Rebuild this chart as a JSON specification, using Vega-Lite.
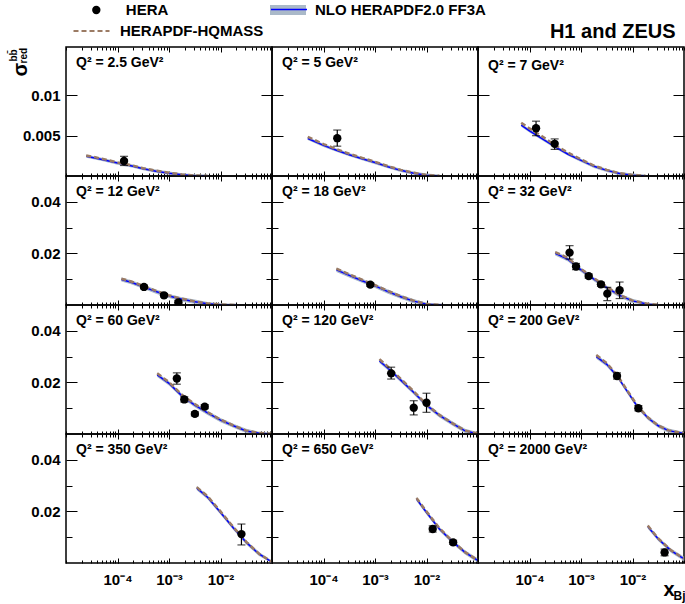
{
"$schema": "https://vega.github.io/schema/vega-lite/v6.json",
"autosize": {"type": "none"},
"padding": {"left": 66, "top": 47, "right": 619, "bottom": 557},
"background": "white",
"datasets": {
"pts": [
{"q":"2.5","x":0.000134,"y":0.00186,"elo":0.0013,"ehi":0.00244},
{"q":"5","x":0.000185,"y":0.00469,"elo":0.0037,"ehi":0.0057},
{"q":"7","x":0.000134,"y":0.00593,"elo":0.005,"ehi":0.0068},
{"q":"7","x":0.000308,"y":0.00399,"elo":0.0033,"ehi":0.0046},
{"q":"12","x":0.000327,"y":0.007,"elo":0.0063,"ehi":0.0077},
{"q":"12","x":0.0008,"y":0.00375,"elo":0.0031,"ehi":0.0044},
{"q":"12","x":0.00152,"y":0.00103,"elo":0.0004,"ehi":0.0017},
{"q":"18","x":0.00081,"y":0.0079,"elo":0.0072,"ehi":0.0086},
{"q":"32","x":0.0006,"y":0.0203,"elo":0.0178,"ehi":0.023},
{"q":"32","x":0.0008,"y":0.0149,"elo":0.0137,"ehi":0.0161},
{"q":"32","x":0.00141,"y":0.0112,"elo":0.0104,"ehi":0.012},
{"q":"32","x":0.00244,"y":0.008,"elo":0.0072,"ehi":0.0088},
{"q":"32","x":0.00324,"y":0.0044,"elo":0.0017,"ehi":0.0068},
{"q":"32","x":0.00562,"y":0.0057,"elo":0.0025,"ehi":0.0089},
{"q":"60","x":0.00142,"y":0.0215,"elo":0.0193,"ehi":0.0237},
{"q":"60","x":0.00198,"y":0.0134,"elo":0.0124,"ehi":0.0144},
{"q":"60","x":0.00318,"y":0.0078,"elo":0.007,"ehi":0.0086},
{"q":"60","x":0.00494,"y":0.0106,"elo":0.0098,"ehi":0.0114},
{"q":"120","x":0.00206,"y":0.0235,"elo":0.0213,"ehi":0.0259},
{"q":"120","x":0.00565,"y":0.0102,"elo":0.0074,"ehi":0.0129},
{"q":"120","x":0.01,"y":0.0121,"elo":0.0084,"ehi":0.0158},
{"q":"200","x":0.005,"y":0.0225,"elo":0.0213,"ehi":0.0237},
{"q":"200","x":0.013,"y":0.01,"elo":0.009,"ehi":0.011},
{"q":"350","x":0.0255,"y":0.0112,"elo":0.007,"ehi":0.0151},
{"q":"650","x":0.0132,"y":0.0132,"elo":0.012,"ehi":0.0144},
{"q":"650","x":0.0329,"y":0.008,"elo":0.0072,"ehi":0.0088},
{"q":"2000","x":0.042,"y":0.0041,"elo":0.0028,"ehi":0.0054}
],
"cur": [
{"q":"2.5","x":0.0000247,"nlo":0.00245,"hq":0.00255,"lo":0.00225,"hi":0.00265},
{"q":"2.5","x":0.00005,"nlo":0.00205,"hq":0.00214,"lo":0.00185,"hi":0.00225},
{"q":"2.5","x":0.0001,"nlo":0.0016,"hq":0.00168,"lo":0.0014,"hi":0.0018},
{"q":"2.5","x":0.0002,"nlo":0.00122,"hq":0.00129,"lo":0.00102,"hi":0.00142},
{"q":"2.5","x":0.000316,"nlo":0.0009,"hq":0.00096,"lo":0.0007,"hi":0.0011},
{"q":"2.5","x":0.00056,"nlo":0.0006,"hq":0.00065,"lo":0.0004,"hi":0.0008},
{"q":"2.5","x":0.001,"nlo":0.00035,"hq":0.0004,"lo":0.00015,"hi":0.00055},
{"q":"2.5","x":0.00178,"nlo":0.00015,"hq":0.0002,"lo":0,"hi":0.00035},
{"q":"2.5","x":0.00316,"nlo":0.00003,"hq":0.00006,"lo":0,"hi":0.00023},
{"q":"2.5","x":0.0056,"nlo":0,"hq":0.00001,"lo":0,"hi":0.0002},
{"q":"5","x":0.0000495,"nlo":0.00465,"hq":0.00485,"lo":0.00445,"hi":0.00485},
{"q":"5","x":0.0001,"nlo":0.0038,"hq":0.00396,"lo":0.0036,"hi":0.004},
{"q":"5","x":0.000178,"nlo":0.0032,"hq":0.00334,"lo":0.003,"hi":0.0034},
{"q":"5","x":0.000316,"nlo":0.00264,"hq":0.00276,"lo":0.00244,"hi":0.00284},
{"q":"5","x":0.00056,"nlo":0.00215,"hq":0.00225,"lo":0.00195,"hi":0.00235},
{"q":"5","x":0.001,"nlo":0.00167,"hq":0.00176,"lo":0.00147,"hi":0.00187},
{"q":"5","x":0.00178,"nlo":0.00115,"hq":0.00122,"lo":0.00095,"hi":0.00135},
{"q":"5","x":0.00316,"nlo":0.0007,"hq":0.00076,"lo":0.0005,"hi":0.0009},
{"q":"5","x":0.0056,"nlo":0.00035,"hq":0.0004,"lo":0.00015,"hi":0.00055},
{"q":"5","x":0.01,"nlo":0.0001,"hq":0.00013,"lo":0,"hi":0.0003},
{"q":"5","x":0.0178,"nlo":0,"hq":0.00002,"lo":0,"hi":0.0002},
{"q":"7","x":0.000069,"nlo":0.0063,"hq":0.0066,"lo":0.0061,"hi":0.0065},
{"q":"7","x":0.0001,"nlo":0.0056,"hq":0.0059,"lo":0.0054,"hi":0.0058},
{"q":"7","x":0.000178,"nlo":0.0046,"hq":0.0049,"lo":0.0044,"hi":0.0048},
{"q":"7","x":0.000316,"nlo":0.0036,"hq":0.0038,"lo":0.0034,"hi":0.0038},
{"q":"7","x":0.00056,"nlo":0.0027,"hq":0.0029,"lo":0.0025,"hi":0.0029},
{"q":"7","x":0.001,"nlo":0.00194,"hq":0.00207,"lo":0.00174,"hi":0.00214},
{"q":"7","x":0.00178,"nlo":0.0012,"hq":0.0013,"lo":0.001,"hi":0.0014},
{"q":"7","x":0.00316,"nlo":0.0007,"hq":0.00076,"lo":0.0005,"hi":0.0009},
{"q":"7","x":0.0056,"nlo":0.0003,"hq":0.00035,"lo":0.0001,"hi":0.0005},
{"q":"7","x":0.01,"nlo":0.0001,"hq":0.00012,"lo":0,"hi":0.0003},
{"q":"7","x":0.0178,"nlo":0,"hq":0.00002,"lo":0,"hi":0.0002},
{"q":"12","x":0.000119,"nlo":0.0099,"hq":0.0102,"lo":0.0091,"hi":0.0107},
{"q":"12","x":0.000178,"nlo":0.0089,"hq":0.0092,"lo":0.0081,"hi":0.0097},
{"q":"12","x":0.000316,"nlo":0.0071,"hq":0.0074,"lo":0.0063,"hi":0.0079},
{"q":"12","x":0.00056,"nlo":0.0052,"hq":0.0055,"lo":0.0044,"hi":0.006},
{"q":"12","x":0.001,"nlo":0.0035,"hq":0.0037,"lo":0.0027,"hi":0.0043},
{"q":"12","x":0.00178,"nlo":0.0022,"hq":0.0024,"lo":0.0014,"hi":0.003},
{"q":"12","x":0.00316,"nlo":0.0013,"hq":0.0014,"lo":0.0005,"hi":0.0021},
{"q":"12","x":0.0056,"nlo":0.0005,"hq":0.0006,"lo":0,"hi":0.0012},
{"q":"12","x":0.01,"nlo":0.0001,"hq":0.0002,"lo":0,"hi":0.0007},
{"q":"12","x":0.02,"nlo":0,"hq":0.00003,"lo":0,"hi":0.0005},
{"q":"18","x":0.000178,"nlo":0.0136,"hq":0.0141,"lo":0.0128,"hi":0.0144},
{"q":"18","x":0.000316,"nlo":0.0115,"hq":0.0119,"lo":0.0107,"hi":0.0123},
{"q":"18","x":0.00056,"nlo":0.0094,"hq":0.0098,"lo":0.0086,"hi":0.0102},
{"q":"18","x":0.001,"nlo":0.0074,"hq":0.0077,"lo":0.0066,"hi":0.0082},
{"q":"18","x":0.00178,"nlo":0.0052,"hq":0.0055,"lo":0.0044,"hi":0.006},
{"q":"18","x":0.00316,"nlo":0.0032,"hq":0.0034,"lo":0.0024,"hi":0.004},
{"q":"18","x":0.0056,"nlo":0.0015,"hq":0.0017,"lo":0.0007,"hi":0.0023},
{"q":"18","x":0.01,"nlo":0.0003,"hq":0.0004,"lo":0,"hi":0.0009},
{"q":"18","x":0.02,"nlo":0,"hq":0.00005,"lo":0,"hi":0.0005},
{"q":"32","x":0.000316,"nlo":0.02,"hq":0.0205,"lo":0.0192,"hi":0.0208},
{"q":"32","x":0.00056,"nlo":0.0177,"hq":0.0182,"lo":0.0169,"hi":0.0185},
{"q":"32","x":0.001,"nlo":0.0136,"hq":0.014,"lo":0.0128,"hi":0.0144},
{"q":"32","x":0.00178,"nlo":0.01,"hq":0.0104,"lo":0.0092,"hi":0.0108},
{"q":"32","x":0.00316,"nlo":0.0067,"hq":0.007,"lo":0.0059,"hi":0.0075},
{"q":"32","x":0.0056,"nlo":0.0037,"hq":0.0039,"lo":0.0029,"hi":0.0045},
{"q":"32","x":0.01,"nlo":0.0016,"hq":0.0017,"lo":0.0008,"hi":0.0024},
{"q":"32","x":0.02,"nlo":0.0003,"hq":0.0004,"lo":0,"hi":0.0009},
{"q":"32","x":0.0316,"nlo":0,"hq":0.0001,"lo":0,"hi":0.0005},
{"q":"60","x":0.00059,"nlo":0.0229,"hq":0.0235,"lo":0.0221,"hi":0.0237},
{"q":"60","x":0.001,"nlo":0.0196,"hq":0.0201,"lo":0.0188,"hi":0.0204},
{"q":"60","x":0.00178,"nlo":0.0148,"hq":0.0152,"lo":0.014,"hi":0.0156},
{"q":"60","x":0.00316,"nlo":0.0112,"hq":0.0116,"lo":0.0104,"hi":0.012},
{"q":"60","x":0.0056,"nlo":0.0082,"hq":0.0085,"lo":0.0074,"hi":0.009},
{"q":"60","x":0.01,"nlo":0.0054,"hq":0.0056,"lo":0.0046,"hi":0.0062},
{"q":"60","x":0.0178,"nlo":0.0032,"hq":0.0033,"lo":0.0024,"hi":0.004},
{"q":"60","x":0.0316,"nlo":0.0012,"hq":0.0013,"lo":0.0004,"hi":0.002},
{"q":"60","x":0.056,"nlo":0.0003,"hq":0.0004,"lo":0,"hi":0.0009},
{"q":"60","x":0.1,"nlo":0,"hq":0.0001,"lo":0,"hi":0.0005},
{"q":"120","x":0.00122,"nlo":0.0283,"hq":0.029,"lo":0.0275,"hi":0.0291},
{"q":"120","x":0.00178,"nlo":0.0255,"hq":0.0261,"lo":0.0247,"hi":0.0263},
{"q":"120","x":0.00316,"nlo":0.0209,"hq":0.0214,"lo":0.0201,"hi":0.0217},
{"q":"120","x":0.0056,"nlo":0.0162,"hq":0.0166,"lo":0.0154,"hi":0.017},
{"q":"120","x":0.01,"nlo":0.0112,"hq":0.0115,"lo":0.0104,"hi":0.012},
{"q":"120","x":0.0178,"nlo":0.0072,"hq":0.0074,"lo":0.0064,"hi":0.008},
{"q":"120","x":0.0316,"nlo":0.0041,"hq":0.0042,"lo":0.0033,"hi":0.0049},
{"q":"120","x":0.056,"nlo":0.0012,"hq":0.0013,"lo":0.0004,"hi":0.002},
{"q":"120","x":0.1,"nlo":0.0001,"hq":0.0002,"lo":0,"hi":0.0007},
{"q":"200","x":0.00198,"nlo":0.03,"hq":0.0306,"lo":0.0292,"hi":0.0308},
{"q":"200","x":0.00316,"nlo":0.027,"hq":0.0275,"lo":0.0262,"hi":0.0278},
{"q":"200","x":0.005,"nlo":0.0225,"hq":0.0229,"lo":0.0217,"hi":0.0233},
{"q":"200","x":0.0079,"nlo":0.0165,"hq":0.0169,"lo":0.0157,"hi":0.0173},
{"q":"200","x":0.0126,"nlo":0.0105,"hq":0.0108,"lo":0.0097,"hi":0.0113},
{"q":"200","x":0.02,"nlo":0.0062,"hq":0.0064,"lo":0.0054,"hi":0.007},
{"q":"200","x":0.0316,"nlo":0.0032,"hq":0.0033,"lo":0.0024,"hi":0.004},
{"q":"200","x":0.05,"nlo":0.0013,"hq":0.0014,"lo":0.0005,"hi":0.0021},
{"q":"200","x":0.1,"nlo":0.0002,"hq":0.0003,"lo":0,"hi":0.0008},
{"q":"350","x":0.00346,"nlo":0.029,"hq":0.0294,"lo":0.0282,"hi":0.0298},
{"q":"350","x":0.0056,"nlo":0.0255,"hq":0.0259,"lo":0.0247,"hi":0.0263},
{"q":"350","x":0.01,"nlo":0.0196,"hq":0.02,"lo":0.0188,"hi":0.0204},
{"q":"350","x":0.0178,"nlo":0.0136,"hq":0.0139,"lo":0.0128,"hi":0.0144},
{"q":"350","x":0.0316,"nlo":0.008,"hq":0.0082,"lo":0.0072,"hi":0.0088},
{"q":"350","x":0.056,"nlo":0.0035,"hq":0.0036,"lo":0.0027,"hi":0.0043},
{"q":"350","x":0.1,"nlo":0.0003,"hq":0.0004,"lo":0,"hi":0.0009},
{"q":"650","x":0.0064,"nlo":0.0248,"hq":0.0252,"lo":0.024,"hi":0.0256},
{"q":"650","x":0.01,"nlo":0.0196,"hq":0.02,"lo":0.0188,"hi":0.0204},
{"q":"650","x":0.0178,"nlo":0.0132,"hq":0.0135,"lo":0.0124,"hi":0.014},
{"q":"650","x":0.0316,"nlo":0.0084,"hq":0.0086,"lo":0.0076,"hi":0.0092},
{"q":"650","x":0.056,"nlo":0.0041,"hq":0.0042,"lo":0.0033,"hi":0.0049},
{"q":"650","x":0.1,"nlo":0.0009,"hq":0.001,"lo":0.0001,"hi":0.0017},
{"q":"2000","x":0.0198,"nlo":0.0141,"hq":0.0145,"lo":0.0133,"hi":0.0149},
{"q":"2000","x":0.0316,"nlo":0.0093,"hq":0.0095,"lo":0.0085,"hi":0.0101},
{"q":"2000","x":0.056,"nlo":0.0048,"hq":0.0049,"lo":0.004,"hi":0.0056},
{"q":"2000","x":0.1,"nlo":0.0016,"hq":0.0017,"lo":0.0008,"hi":0.0024}
]
},
"columns": 3,
"spacing": 0,
"bounds": "flush",
"concat": [
{"width":206,"height":129,"title":{"text":"Q² = 2.5 GeV²"},"resolve":{"axis":{"x":"independent","y":"independent"}},"layer":[
{"data":{"name":"cur"},"transform":[{"filter":"datum.q === '2.5'"}],"mark":{"type":"area","clip":true,"opacity":1},"encoding":{"x":{"field":"x","type":"quantitative","scale":{"type":"log","domain":[0.00001,0.1]},"axis":{"orient":"bottom","values":[0.0001,0.001,0.01],"tickSize":-5,"labels":false,"title":null}},"y":{"field":"lo","type":"quantitative","scale":{"domain":[0,0.015]},"axis":{"orient":"left","values":[0.005,0.01],"tickSize":-11,"labelPadding":17,"format":".3~f","title":"σ","titleAngle":270,"titleX":-40,"titleY":29,"titleAlign":"left","titleBaseline":"alphabetic","titleFontSize":20}},"y2":{"field":"hi"},"fill":{"datum":"NLO HERAPDF2.0 FF3A","scale":{"domain":["NLO HERAPDF2.0 FF3A"],"range":["#aab9c9"]},"legend":{"orient":"none","legendX":214.5,"legendY":-44.5,"title":null,"symbolType":"M-2.4,-0.67H2.4V0.67H-2.4Z","symbolSize":225,"symbolStrokeWidth":0,"symbolOpacity":1,"labelOffset":19.5,"zindex":0}}}},
{"data":{"name":"cur"},"transform":[{"filter":"datum.q === '2.5'"}],"mark":{"type":"line","clip":true,"strokeWidth":1.5},"encoding":{"x":{"field":"x","type":"quantitative","axis":{"orient":"bottom","tickCount":40,"tickSize":-3,"labels":false,"title":null}},"y":{"field":"nlo","type":"quantitative","axis":{"orient":"left","ticks":false,"labels":false,"title":"bb̄","titleAngle":270,"titleX":-50,"titleY":14,"titleAlign":"left","titleBaseline":"alphabetic","titleFontSize":10}},"stroke":{"datum":"nloline","scale":{"domain":["nloline"],"range":["#0000ff"]},"legend":{"orient":"none","legendX":214.5,"legendY":-46,"title":null,"symbolType":"M-2.4,0H2.4","symbolSize":225,"symbolStrokeWidth":1.5,"labelExpr":"''","zindex":1}}}},
{"data":{"name":"cur"},"transform":[{"filter":"datum.q === '2.5'"}],"mark":{"type":"line","clip":true,"strokeWidth":2.5,"color":"#9b7b64"},"encoding":{"x":{"field":"x","type":"quantitative","axis":{"orient":"top","values":[0.0001,0.001,0.01],"tickSize":-5,"labels":false,"title":null}},"y":{"field":"hq","type":"quantitative","axis":{"orient":"right","values":[0.005,0.01],"tickSize":-11,"labels":false,"title":"red","titleAngle":270,"titleX":-246,"titleY":16,"titleAlign":"left","titleBaseline":"alphabetic","titleFontSize":10}},"strokeDash":{"datum":"HERAPDF-HQMASS","scale":{"domain":["HERAPDF-HQMASS"],"range":[[5,3]]},"legend":{"orient":"none","legendX":17,"legendY":-24.5,"title":null,"symbolType":"M-2.4,0H2.4","symbolSize":225,"symbolStrokeColor":"#9b7b64","symbolStrokeWidth":2,"symbolDash":[6,4],"labelOffset":20}}}},
{"data":{"name":"pts"},"transform":[{"filter":"datum.q === '2.5'"}],"mark":{"type":"rule","clip":true,"color":"black","strokeWidth":1.2},"encoding":{"x":{"field":"x","type":"quantitative","axis":{"orient":"top","tickCount":40,"tickSize":-3,"labels":false,"title":null}},"y":{"field":"elo","type":"quantitative","axis":{"orient":"right","ticks":false,"labels":false,"title":null}},"y2":{"field":"ehi"}}},
{"data":{"name":"pts"},"transform":[{"filter":"datum.q === '2.5'"},{"fold":["elo","ehi"],"as":["k","v"]}],"mark":{"type":"tick","orient":"horizontal","size":8,"thickness":1.2,"color":"black","clip":true},"encoding":{"x":{"field":"x","type":"quantitative","axis":null},"y":{"field":"v","type":"quantitative","axis":null}}},
{"data":{"name":"pts"},"transform":[{"filter":"datum.q === '2.5'"}],"mark":{"type":"point","filled":true,"size":70,"opacity":1,"color":"black","clip":true},"encoding":{"x":{"field":"x","type":"quantitative","axis":null},"y":{"field":"y","type":"quantitative","axis":null},"shape":{"datum":"HERA","scale":{"domain":["HERA"],"range":["circle"]},"legend":{"orient":"none","legendX":22.8,"legendY":-44.5,"title":null,"symbolSize":70,"symbolFillColor":"black","symbolStrokeColor":"black","symbolStrokeWidth":0,"symbolOpacity":1,"labelOffset":22}}}}
]},
{"width":206,"height":129,"title":{"text":"Q² = 5 GeV²"},"resolve":{"axis":{"x":"independent","y":"independent"}},"layer":[
{"data":{"name":"cur"},"transform":[{"filter":"datum.q === '5'"}],"mark":{"type":"area","clip":true,"opacity":1},"encoding":{"x":{"field":"x","type":"quantitative","scale":{"type":"log","domain":[0.00001,0.1]},"axis":{"orient":"bottom","values":[0.0001,0.001,0.01],"tickSize":-5,"labels":false,"title":null}},"y":{"field":"lo","type":"quantitative","scale":{"domain":[0,0.015]},"axis":{"orient":"left","values":[0.005,0.01],"tickSize":-11,"labels":false,"title":null}},"y2":{"field":"hi"},"fill":{"datum":"NLO HERAPDF2.0 FF3A"}}},
{"data":{"name":"cur"},"transform":[{"filter":"datum.q === '5'"}],"mark":{"type":"line","clip":true,"strokeWidth":1.5},"encoding":{"x":{"field":"x","type":"quantitative","axis":{"orient":"bottom","tickCount":40,"tickSize":-3,"labels":false,"title":null}},"y":{"field":"nlo","type":"quantitative","axis":{"orient":"left","ticks":false,"labels":false,"title":null}},"stroke":{"datum":"nloline"}}},
{"data":{"name":"cur"},"transform":[{"filter":"datum.q === '5'"}],"mark":{"type":"line","clip":true,"strokeWidth":2.5,"color":"#9b7b64"},"encoding":{"x":{"field":"x","type":"quantitative","axis":{"orient":"top","values":[0.0001,0.001,0.01],"tickSize":-5,"labels":false,"title":null}},"y":{"field":"hq","type":"quantitative","axis":{"orient":"right","values":[0.005,0.01],"tickSize":-11,"labels":false,"title":null}},"strokeDash":{"datum":"HERAPDF-HQMASS"}}},
{"data":{"name":"pts"},"transform":[{"filter":"datum.q === '5'"}],"mark":{"type":"rule","clip":true,"color":"black","strokeWidth":1.2},"encoding":{"x":{"field":"x","type":"quantitative","axis":{"orient":"top","tickCount":40,"tickSize":-3,"labels":false,"title":null}},"y":{"field":"elo","type":"quantitative","axis":{"orient":"right","ticks":false,"labels":false,"title":null}},"y2":{"field":"ehi"}}},
{"data":{"name":"pts"},"transform":[{"filter":"datum.q === '5'"},{"fold":["elo","ehi"],"as":["k","v"]}],"mark":{"type":"tick","orient":"horizontal","size":8,"thickness":1.2,"color":"black","clip":true},"encoding":{"x":{"field":"x","type":"quantitative","axis":null},"y":{"field":"v","type":"quantitative","axis":null}}},
{"data":{"name":"pts"},"transform":[{"filter":"datum.q === '5'"}],"mark":{"type":"point","filled":true,"size":70,"opacity":1,"color":"black","clip":true},"encoding":{"x":{"field":"x","type":"quantitative","axis":null},"y":{"field":"y","type":"quantitative","axis":null},"shape":{"datum":"HERA"}}}
]},
{"width":206,"height":129,"title":{"text":"Q² = 7 GeV²","offset":-51.5},"resolve":{"axis":{"x":"independent","y":"independent"}},"layer":[
{"data":{"name":"cur"},"transform":[{"filter":"datum.q === '7'"}],"mark":{"type":"area","clip":true,"opacity":1},"encoding":{"x":{"field":"x","type":"quantitative","scale":{"type":"log","domain":[0.00001,0.1]},"axis":{"orient":"bottom","values":[0.0001,0.001,0.01],"tickSize":-5,"labels":false,"title":null}},"y":{"field":"lo","type":"quantitative","scale":{"domain":[0,0.015]},"axis":{"orient":"left","values":[0.005,0.01],"tickSize":-11,"labels":false,"title":null}},"y2":{"field":"hi"},"fill":{"datum":"NLO HERAPDF2.0 FF3A"}}},
{"data":{"name":"cur"},"transform":[{"filter":"datum.q === '7'"}],"mark":{"type":"line","clip":true,"strokeWidth":1.5},"encoding":{"x":{"field":"x","type":"quantitative","axis":{"orient":"bottom","tickCount":40,"tickSize":-3,"labels":false,"title":null}},"y":{"field":"nlo","type":"quantitative","axis":{"orient":"left","ticks":false,"labels":false,"title":null}},"stroke":{"datum":"nloline"}}},
{"data":{"name":"cur"},"transform":[{"filter":"datum.q === '7'"}],"mark":{"type":"line","clip":true,"strokeWidth":2.5,"color":"#9b7b64"},"encoding":{"x":{"field":"x","type":"quantitative","axis":{"orient":"top","values":[0.0001,0.001,0.01],"tickSize":-5,"labels":false,"title":"H1 and ZEUS","titleX":197,"titleY":-10,"titleAlign":"right","titleBaseline":"alphabetic","titleFontSize":20,"titleAngle":0}},"y":{"field":"hq","type":"quantitative","axis":{"orient":"right","values":[0.005,0.01],"tickSize":-11,"labels":false,"title":null}},"strokeDash":{"datum":"HERAPDF-HQMASS"}}},
{"data":{"name":"pts"},"transform":[{"filter":"datum.q === '7'"}],"mark":{"type":"rule","clip":true,"color":"black","strokeWidth":1.2},"encoding":{"x":{"field":"x","type":"quantitative","axis":{"orient":"top","tickCount":40,"tickSize":-3,"labels":false,"title":null}},"y":{"field":"elo","type":"quantitative","axis":{"orient":"right","ticks":false,"labels":false,"title":null}},"y2":{"field":"ehi"}}},
{"data":{"name":"pts"},"transform":[{"filter":"datum.q === '7'"},{"fold":["elo","ehi"],"as":["k","v"]}],"mark":{"type":"tick","orient":"horizontal","size":8,"thickness":1.2,"color":"black","clip":true},"encoding":{"x":{"field":"x","type":"quantitative","axis":null},"y":{"field":"v","type":"quantitative","axis":null}}},
{"data":{"name":"pts"},"transform":[{"filter":"datum.q === '7'"}],"mark":{"type":"point","filled":true,"size":70,"opacity":1,"color":"black","clip":true},"encoding":{"x":{"field":"x","type":"quantitative","axis":null},"y":{"field":"y","type":"quantitative","axis":null},"shape":{"datum":"HERA"}}}
]},
{"width":206,"height":129,"title":{"text":"Q² = 12 GeV²"},"resolve":{"axis":{"x":"independent","y":"independent"}},"layer":[
{"data":{"name":"cur"},"transform":[{"filter":"datum.q === '12'"}],"mark":{"type":"area","clip":true,"opacity":1},"encoding":{"x":{"field":"x","type":"quantitative","scale":{"type":"log","domain":[0.00001,0.1]},"axis":{"orient":"bottom","values":[0.0001,0.001,0.01],"tickSize":-5,"labels":false,"title":null}},"y":{"field":"lo","type":"quantitative","scale":{"domain":[0,0.05]},"axis":{"orient":"left","values":[0.02,0.04],"tickSize":-11,"labelPadding":17,"format":".2~f","title":null}},"y2":{"field":"hi"},"fill":{"datum":"NLO HERAPDF2.0 FF3A"}}},
{"data":{"name":"cur"},"transform":[{"filter":"datum.q === '12'"}],"mark":{"type":"line","clip":true,"strokeWidth":1.5},"encoding":{"x":{"field":"x","type":"quantitative","axis":{"orient":"bottom","tickCount":40,"tickSize":-3,"labels":false,"title":null}},"y":{"field":"nlo","type":"quantitative","axis":{"orient":"left","values":[0.01,0.03],"tickSize":-6,"labels":false,"title":null}},"stroke":{"datum":"nloline"}}},
{"data":{"name":"cur"},"transform":[{"filter":"datum.q === '12'"}],"mark":{"type":"line","clip":true,"strokeWidth":2.5,"color":"#9b7b64"},"encoding":{"x":{"field":"x","type":"quantitative","axis":{"orient":"top","values":[0.0001,0.001,0.01],"tickSize":-5,"labels":false,"title":null}},"y":{"field":"hq","type":"quantitative","axis":{"orient":"right","values":[0.02,0.04],"tickSize":-11,"labels":false,"title":null}},"strokeDash":{"datum":"HERAPDF-HQMASS"}}},
{"data":{"name":"pts"},"transform":[{"filter":"datum.q === '12'"}],"mark":{"type":"rule","clip":true,"color":"black","strokeWidth":1.2},"encoding":{"x":{"field":"x","type":"quantitative","axis":{"orient":"top","tickCount":40,"tickSize":-3,"labels":false,"title":null}},"y":{"field":"elo","type":"quantitative","axis":{"orient":"right","values":[0.01,0.03],"tickSize":-6,"labels":false,"title":null}},"y2":{"field":"ehi"}}},
{"data":{"name":"pts"},"transform":[{"filter":"datum.q === '12'"},{"fold":["elo","ehi"],"as":["k","v"]}],"mark":{"type":"tick","orient":"horizontal","size":8,"thickness":1.2,"color":"black","clip":true},"encoding":{"x":{"field":"x","type":"quantitative","axis":null},"y":{"field":"v","type":"quantitative","axis":null}}},
{"data":{"name":"pts"},"transform":[{"filter":"datum.q === '12'"}],"mark":{"type":"point","filled":true,"size":70,"opacity":1,"color":"black","clip":true},"encoding":{"x":{"field":"x","type":"quantitative","axis":null},"y":{"field":"y","type":"quantitative","axis":null},"shape":{"datum":"HERA"}}}
]},
{"width":206,"height":129,"title":{"text":"Q² = 18 GeV²"},"resolve":{"axis":{"x":"independent","y":"independent"}},"layer":[
{"data":{"name":"cur"},"transform":[{"filter":"datum.q === '18'"}],"mark":{"type":"area","clip":true,"opacity":1},"encoding":{"x":{"field":"x","type":"quantitative","scale":{"type":"log","domain":[0.00001,0.1]},"axis":{"orient":"bottom","values":[0.0001,0.001,0.01],"tickSize":-5,"labels":false,"title":null}},"y":{"field":"lo","type":"quantitative","scale":{"domain":[0,0.05]},"axis":{"orient":"left","values":[0.02,0.04],"tickSize":-11,"labels":false,"title":null}},"y2":{"field":"hi"},"fill":{"datum":"NLO HERAPDF2.0 FF3A"}}},
{"data":{"name":"cur"},"transform":[{"filter":"datum.q === '18'"}],"mark":{"type":"line","clip":true,"strokeWidth":1.5},"encoding":{"x":{"field":"x","type":"quantitative","axis":{"orient":"bottom","tickCount":40,"tickSize":-3,"labels":false,"title":null}},"y":{"field":"nlo","type":"quantitative","axis":{"orient":"left","values":[0.01,0.03],"tickSize":-6,"labels":false,"title":null}},"stroke":{"datum":"nloline"}}},
{"data":{"name":"cur"},"transform":[{"filter":"datum.q === '18'"}],"mark":{"type":"line","clip":true,"strokeWidth":2.5,"color":"#9b7b64"},"encoding":{"x":{"field":"x","type":"quantitative","axis":{"orient":"top","values":[0.0001,0.001,0.01],"tickSize":-5,"labels":false,"title":null}},"y":{"field":"hq","type":"quantitative","axis":{"orient":"right","values":[0.02,0.04],"tickSize":-11,"labels":false,"title":null}},"strokeDash":{"datum":"HERAPDF-HQMASS"}}},
{"data":{"name":"pts"},"transform":[{"filter":"datum.q === '18'"}],"mark":{"type":"rule","clip":true,"color":"black","strokeWidth":1.2},"encoding":{"x":{"field":"x","type":"quantitative","axis":{"orient":"top","tickCount":40,"tickSize":-3,"labels":false,"title":null}},"y":{"field":"elo","type":"quantitative","axis":{"orient":"right","values":[0.01,0.03],"tickSize":-6,"labels":false,"title":null}},"y2":{"field":"ehi"}}},
{"data":{"name":"pts"},"transform":[{"filter":"datum.q === '18'"},{"fold":["elo","ehi"],"as":["k","v"]}],"mark":{"type":"tick","orient":"horizontal","size":8,"thickness":1.2,"color":"black","clip":true},"encoding":{"x":{"field":"x","type":"quantitative","axis":null},"y":{"field":"v","type":"quantitative","axis":null}}},
{"data":{"name":"pts"},"transform":[{"filter":"datum.q === '18'"}],"mark":{"type":"point","filled":true,"size":70,"opacity":1,"color":"black","clip":true},"encoding":{"x":{"field":"x","type":"quantitative","axis":null},"y":{"field":"y","type":"quantitative","axis":null},"shape":{"datum":"HERA"}}}
]},
{"width":206,"height":129,"title":{"text":"Q² = 32 GeV²"},"resolve":{"axis":{"x":"independent","y":"independent"}},"layer":[
{"data":{"name":"cur"},"transform":[{"filter":"datum.q === '32'"}],"mark":{"type":"area","clip":true,"opacity":1},"encoding":{"x":{"field":"x","type":"quantitative","scale":{"type":"log","domain":[0.00001,0.1]},"axis":{"orient":"bottom","values":[0.0001,0.001,0.01],"tickSize":-5,"labels":false,"title":null}},"y":{"field":"lo","type":"quantitative","scale":{"domain":[0,0.05]},"axis":{"orient":"left","values":[0.02,0.04],"tickSize":-11,"labels":false,"title":null}},"y2":{"field":"hi"},"fill":{"datum":"NLO HERAPDF2.0 FF3A"}}},
{"data":{"name":"cur"},"transform":[{"filter":"datum.q === '32'"}],"mark":{"type":"line","clip":true,"strokeWidth":1.5},"encoding":{"x":{"field":"x","type":"quantitative","axis":{"orient":"bottom","tickCount":40,"tickSize":-3,"labels":false,"title":null}},"y":{"field":"nlo","type":"quantitative","axis":{"orient":"left","values":[0.01,0.03],"tickSize":-6,"labels":false,"title":null}},"stroke":{"datum":"nloline"}}},
{"data":{"name":"cur"},"transform":[{"filter":"datum.q === '32'"}],"mark":{"type":"line","clip":true,"strokeWidth":2.5,"color":"#9b7b64"},"encoding":{"x":{"field":"x","type":"quantitative","axis":{"orient":"top","values":[0.0001,0.001,0.01],"tickSize":-5,"labels":false,"title":null}},"y":{"field":"hq","type":"quantitative","axis":{"orient":"right","values":[0.02,0.04],"tickSize":-11,"labels":false,"title":null}},"strokeDash":{"datum":"HERAPDF-HQMASS"}}},
{"data":{"name":"pts"},"transform":[{"filter":"datum.q === '32'"}],"mark":{"type":"rule","clip":true,"color":"black","strokeWidth":1.2},"encoding":{"x":{"field":"x","type":"quantitative","axis":{"orient":"top","tickCount":40,"tickSize":-3,"labels":false,"title":null}},"y":{"field":"elo","type":"quantitative","axis":{"orient":"right","values":[0.01,0.03],"tickSize":-6,"labels":false,"title":null}},"y2":{"field":"ehi"}}},
{"data":{"name":"pts"},"transform":[{"filter":"datum.q === '32'"},{"fold":["elo","ehi"],"as":["k","v"]}],"mark":{"type":"tick","orient":"horizontal","size":8,"thickness":1.2,"color":"black","clip":true},"encoding":{"x":{"field":"x","type":"quantitative","axis":null},"y":{"field":"v","type":"quantitative","axis":null}}},
{"data":{"name":"pts"},"transform":[{"filter":"datum.q === '32'"}],"mark":{"type":"point","filled":true,"size":70,"opacity":1,"color":"black","clip":true},"encoding":{"x":{"field":"x","type":"quantitative","axis":null},"y":{"field":"y","type":"quantitative","axis":null},"shape":{"datum":"HERA"}}}
]},
{"width":206,"height":129,"title":{"text":"Q² = 60 GeV²"},"resolve":{"axis":{"x":"independent","y":"independent"}},"layer":[
{"data":{"name":"cur"},"transform":[{"filter":"datum.q === '60'"}],"mark":{"type":"area","clip":true,"opacity":1},"encoding":{"x":{"field":"x","type":"quantitative","scale":{"type":"log","domain":[0.00001,0.1]},"axis":{"orient":"bottom","values":[0.0001,0.001,0.01],"tickSize":-5,"labels":false,"title":null}},"y":{"field":"lo","type":"quantitative","scale":{"domain":[0,0.05]},"axis":{"orient":"left","values":[0.02,0.04],"tickSize":-11,"labelPadding":17,"format":".2~f","title":null}},"y2":{"field":"hi"},"fill":{"datum":"NLO HERAPDF2.0 FF3A"}}},
{"data":{"name":"cur"},"transform":[{"filter":"datum.q === '60'"}],"mark":{"type":"line","clip":true,"strokeWidth":1.5},"encoding":{"x":{"field":"x","type":"quantitative","axis":{"orient":"bottom","tickCount":40,"tickSize":-3,"labels":false,"title":null}},"y":{"field":"nlo","type":"quantitative","axis":{"orient":"left","values":[0.01,0.03],"tickSize":-6,"labels":false,"title":null}},"stroke":{"datum":"nloline"}}},
{"data":{"name":"cur"},"transform":[{"filter":"datum.q === '60'"}],"mark":{"type":"line","clip":true,"strokeWidth":2.5,"color":"#9b7b64"},"encoding":{"x":{"field":"x","type":"quantitative","axis":{"orient":"top","values":[0.0001,0.001,0.01],"tickSize":-5,"labels":false,"title":null}},"y":{"field":"hq","type":"quantitative","axis":{"orient":"right","values":[0.02,0.04],"tickSize":-11,"labels":false,"title":null}},"strokeDash":{"datum":"HERAPDF-HQMASS"}}},
{"data":{"name":"pts"},"transform":[{"filter":"datum.q === '60'"}],"mark":{"type":"rule","clip":true,"color":"black","strokeWidth":1.2},"encoding":{"x":{"field":"x","type":"quantitative","axis":{"orient":"top","tickCount":40,"tickSize":-3,"labels":false,"title":null}},"y":{"field":"elo","type":"quantitative","axis":{"orient":"right","values":[0.01,0.03],"tickSize":-6,"labels":false,"title":null}},"y2":{"field":"ehi"}}},
{"data":{"name":"pts"},"transform":[{"filter":"datum.q === '60'"},{"fold":["elo","ehi"],"as":["k","v"]}],"mark":{"type":"tick","orient":"horizontal","size":8,"thickness":1.2,"color":"black","clip":true},"encoding":{"x":{"field":"x","type":"quantitative","axis":null},"y":{"field":"v","type":"quantitative","axis":null}}},
{"data":{"name":"pts"},"transform":[{"filter":"datum.q === '60'"}],"mark":{"type":"point","filled":true,"size":70,"opacity":1,"color":"black","clip":true},"encoding":{"x":{"field":"x","type":"quantitative","axis":null},"y":{"field":"y","type":"quantitative","axis":null},"shape":{"datum":"HERA"}}}
]},
{"width":206,"height":129,"title":{"text":"Q² = 120 GeV²"},"resolve":{"axis":{"x":"independent","y":"independent"}},"layer":[
{"data":{"name":"cur"},"transform":[{"filter":"datum.q === '120'"}],"mark":{"type":"area","clip":true,"opacity":1},"encoding":{"x":{"field":"x","type":"quantitative","scale":{"type":"log","domain":[0.00001,0.1]},"axis":{"orient":"bottom","values":[0.0001,0.001,0.01],"tickSize":-5,"labels":false,"title":null}},"y":{"field":"lo","type":"quantitative","scale":{"domain":[0,0.05]},"axis":{"orient":"left","values":[0.02,0.04],"tickSize":-11,"labels":false,"title":null}},"y2":{"field":"hi"},"fill":{"datum":"NLO HERAPDF2.0 FF3A"}}},
{"data":{"name":"cur"},"transform":[{"filter":"datum.q === '120'"}],"mark":{"type":"line","clip":true,"strokeWidth":1.5},"encoding":{"x":{"field":"x","type":"quantitative","axis":{"orient":"bottom","tickCount":40,"tickSize":-3,"labels":false,"title":null}},"y":{"field":"nlo","type":"quantitative","axis":{"orient":"left","values":[0.01,0.03],"tickSize":-6,"labels":false,"title":null}},"stroke":{"datum":"nloline"}}},
{"data":{"name":"cur"},"transform":[{"filter":"datum.q === '120'"}],"mark":{"type":"line","clip":true,"strokeWidth":2.5,"color":"#9b7b64"},"encoding":{"x":{"field":"x","type":"quantitative","axis":{"orient":"top","values":[0.0001,0.001,0.01],"tickSize":-5,"labels":false,"title":null}},"y":{"field":"hq","type":"quantitative","axis":{"orient":"right","values":[0.02,0.04],"tickSize":-11,"labels":false,"title":null}},"strokeDash":{"datum":"HERAPDF-HQMASS"}}},
{"data":{"name":"pts"},"transform":[{"filter":"datum.q === '120'"}],"mark":{"type":"rule","clip":true,"color":"black","strokeWidth":1.2},"encoding":{"x":{"field":"x","type":"quantitative","axis":{"orient":"top","tickCount":40,"tickSize":-3,"labels":false,"title":null}},"y":{"field":"elo","type":"quantitative","axis":{"orient":"right","values":[0.01,0.03],"tickSize":-6,"labels":false,"title":null}},"y2":{"field":"ehi"}}},
{"data":{"name":"pts"},"transform":[{"filter":"datum.q === '120'"},{"fold":["elo","ehi"],"as":["k","v"]}],"mark":{"type":"tick","orient":"horizontal","size":8,"thickness":1.2,"color":"black","clip":true},"encoding":{"x":{"field":"x","type":"quantitative","axis":null},"y":{"field":"v","type":"quantitative","axis":null}}},
{"data":{"name":"pts"},"transform":[{"filter":"datum.q === '120'"}],"mark":{"type":"point","filled":true,"size":70,"opacity":1,"color":"black","clip":true},"encoding":{"x":{"field":"x","type":"quantitative","axis":null},"y":{"field":"y","type":"quantitative","axis":null},"shape":{"datum":"HERA"}}}
]},
{"width":206,"height":129,"title":{"text":"Q² = 200 GeV²"},"resolve":{"axis":{"x":"independent","y":"independent"}},"layer":[
{"data":{"name":"cur"},"transform":[{"filter":"datum.q === '200'"}],"mark":{"type":"area","clip":true,"opacity":1},"encoding":{"x":{"field":"x","type":"quantitative","scale":{"type":"log","domain":[0.00001,0.1]},"axis":{"orient":"bottom","values":[0.0001,0.001,0.01],"tickSize":-5,"labels":false,"title":null}},"y":{"field":"lo","type":"quantitative","scale":{"domain":[0,0.05]},"axis":{"orient":"left","values":[0.02,0.04],"tickSize":-11,"labels":false,"title":null}},"y2":{"field":"hi"},"fill":{"datum":"NLO HERAPDF2.0 FF3A"}}},
{"data":{"name":"cur"},"transform":[{"filter":"datum.q === '200'"}],"mark":{"type":"line","clip":true,"strokeWidth":1.5},"encoding":{"x":{"field":"x","type":"quantitative","axis":{"orient":"bottom","tickCount":40,"tickSize":-3,"labels":false,"title":null}},"y":{"field":"nlo","type":"quantitative","axis":{"orient":"left","values":[0.01,0.03],"tickSize":-6,"labels":false,"title":null}},"stroke":{"datum":"nloline"}}},
{"data":{"name":"cur"},"transform":[{"filter":"datum.q === '200'"}],"mark":{"type":"line","clip":true,"strokeWidth":2.5,"color":"#9b7b64"},"encoding":{"x":{"field":"x","type":"quantitative","axis":{"orient":"top","values":[0.0001,0.001,0.01],"tickSize":-5,"labels":false,"title":null}},"y":{"field":"hq","type":"quantitative","axis":{"orient":"right","values":[0.02,0.04],"tickSize":-11,"labels":false,"title":null}},"strokeDash":{"datum":"HERAPDF-HQMASS"}}},
{"data":{"name":"pts"},"transform":[{"filter":"datum.q === '200'"}],"mark":{"type":"rule","clip":true,"color":"black","strokeWidth":1.2},"encoding":{"x":{"field":"x","type":"quantitative","axis":{"orient":"top","tickCount":40,"tickSize":-3,"labels":false,"title":null}},"y":{"field":"elo","type":"quantitative","axis":{"orient":"right","values":[0.01,0.03],"tickSize":-6,"labels":false,"title":null}},"y2":{"field":"ehi"}}},
{"data":{"name":"pts"},"transform":[{"filter":"datum.q === '200'"},{"fold":["elo","ehi"],"as":["k","v"]}],"mark":{"type":"tick","orient":"horizontal","size":8,"thickness":1.2,"color":"black","clip":true},"encoding":{"x":{"field":"x","type":"quantitative","axis":null},"y":{"field":"v","type":"quantitative","axis":null}}},
{"data":{"name":"pts"},"transform":[{"filter":"datum.q === '200'"}],"mark":{"type":"point","filled":true,"size":70,"opacity":1,"color":"black","clip":true},"encoding":{"x":{"field":"x","type":"quantitative","axis":null},"y":{"field":"y","type":"quantitative","axis":null},"shape":{"datum":"HERA"}}}
]},
{"width":206,"height":129,"title":{"text":"Q² = 350 GeV²"},"resolve":{"axis":{"x":"independent","y":"independent"}},"layer":[
{"data":{"name":"cur"},"transform":[{"filter":"datum.q === '350'"}],"mark":{"type":"area","clip":true,"opacity":1},"encoding":{"x":{"field":"x","type":"quantitative","scale":{"type":"log","domain":[0.00001,0.1]},"axis":{"orient":"bottom","values":[0.0001,0.001,0.01],"tickSize":-5,"labelPadding":14,"labelExpr":"datum.value < 0.0005 ? '10⁻⁴' : datum.value < 0.005 ? '10⁻³' : '10⁻²'","title":null}},"y":{"field":"lo","type":"quantitative","scale":{"domain":[0,0.05]},"axis":{"orient":"left","values":[0.02,0.04],"tickSize":-11,"labelPadding":17,"format":".2~f","title":null}},"y2":{"field":"hi"},"fill":{"datum":"NLO HERAPDF2.0 FF3A"}}},
{"data":{"name":"cur"},"transform":[{"filter":"datum.q === '350'"}],"mark":{"type":"line","clip":true,"strokeWidth":1.5},"encoding":{"x":{"field":"x","type":"quantitative","axis":{"orient":"bottom","tickCount":40,"tickSize":-3,"labels":false,"title":null}},"y":{"field":"nlo","type":"quantitative","axis":{"orient":"left","values":[0.01,0.03],"tickSize":-6,"labels":false,"title":null}},"stroke":{"datum":"nloline"}}},
{"data":{"name":"cur"},"transform":[{"filter":"datum.q === '350'"}],"mark":{"type":"line","clip":true,"strokeWidth":2.5,"color":"#9b7b64"},"encoding":{"x":{"field":"x","type":"quantitative","axis":{"orient":"top","values":[0.0001,0.001,0.01],"tickSize":-5,"labels":false,"title":null}},"y":{"field":"hq","type":"quantitative","axis":{"orient":"right","values":[0.02,0.04],"tickSize":-11,"labels":false,"title":null}},"strokeDash":{"datum":"HERAPDF-HQMASS"}}},
{"data":{"name":"pts"},"transform":[{"filter":"datum.q === '350'"}],"mark":{"type":"rule","clip":true,"color":"black","strokeWidth":1.2},"encoding":{"x":{"field":"x","type":"quantitative","axis":{"orient":"top","tickCount":40,"tickSize":-3,"labels":false,"title":null}},"y":{"field":"elo","type":"quantitative","axis":{"orient":"right","values":[0.01,0.03],"tickSize":-6,"labels":false,"title":null}},"y2":{"field":"ehi"}}},
{"data":{"name":"pts"},"transform":[{"filter":"datum.q === '350'"},{"fold":["elo","ehi"],"as":["k","v"]}],"mark":{"type":"tick","orient":"horizontal","size":8,"thickness":1.2,"color":"black","clip":true},"encoding":{"x":{"field":"x","type":"quantitative","axis":null},"y":{"field":"v","type":"quantitative","axis":null}}},
{"data":{"name":"pts"},"transform":[{"filter":"datum.q === '350'"}],"mark":{"type":"point","filled":true,"size":70,"opacity":1,"color":"black","clip":true},"encoding":{"x":{"field":"x","type":"quantitative","axis":null},"y":{"field":"y","type":"quantitative","axis":null},"shape":{"datum":"HERA"}}}
]},
{"width":206,"height":129,"title":{"text":"Q² = 650 GeV²"},"resolve":{"axis":{"x":"independent","y":"independent"}},"layer":[
{"data":{"name":"cur"},"transform":[{"filter":"datum.q === '650'"}],"mark":{"type":"area","clip":true,"opacity":1},"encoding":{"x":{"field":"x","type":"quantitative","scale":{"type":"log","domain":[0.00001,0.1]},"axis":{"orient":"bottom","values":[0.0001,0.001,0.01],"tickSize":-5,"labelPadding":14,"labelExpr":"datum.value < 0.0005 ? '10⁻⁴' : datum.value < 0.005 ? '10⁻³' : '10⁻²'","title":null}},"y":{"field":"lo","type":"quantitative","scale":{"domain":[0,0.05]},"axis":{"orient":"left","values":[0.02,0.04],"tickSize":-11,"labels":false,"title":null}},"y2":{"field":"hi"},"fill":{"datum":"NLO HERAPDF2.0 FF3A"}}},
{"data":{"name":"cur"},"transform":[{"filter":"datum.q === '650'"}],"mark":{"type":"line","clip":true,"strokeWidth":1.5},"encoding":{"x":{"field":"x","type":"quantitative","axis":{"orient":"bottom","tickCount":40,"tickSize":-3,"labels":false,"title":null}},"y":{"field":"nlo","type":"quantitative","axis":{"orient":"left","values":[0.01,0.03],"tickSize":-6,"labels":false,"title":null}},"stroke":{"datum":"nloline"}}},
{"data":{"name":"cur"},"transform":[{"filter":"datum.q === '650'"}],"mark":{"type":"line","clip":true,"strokeWidth":2.5,"color":"#9b7b64"},"encoding":{"x":{"field":"x","type":"quantitative","axis":{"orient":"top","values":[0.0001,0.001,0.01],"tickSize":-5,"labels":false,"title":null}},"y":{"field":"hq","type":"quantitative","axis":{"orient":"right","values":[0.02,0.04],"tickSize":-11,"labels":false,"title":null}},"strokeDash":{"datum":"HERAPDF-HQMASS"}}},
{"data":{"name":"pts"},"transform":[{"filter":"datum.q === '650'"}],"mark":{"type":"rule","clip":true,"color":"black","strokeWidth":1.2},"encoding":{"x":{"field":"x","type":"quantitative","axis":{"orient":"top","tickCount":40,"tickSize":-3,"labels":false,"title":null}},"y":{"field":"elo","type":"quantitative","axis":{"orient":"right","values":[0.01,0.03],"tickSize":-6,"labels":false,"title":null}},"y2":{"field":"ehi"}}},
{"data":{"name":"pts"},"transform":[{"filter":"datum.q === '650'"},{"fold":["elo","ehi"],"as":["k","v"]}],"mark":{"type":"tick","orient":"horizontal","size":8,"thickness":1.2,"color":"black","clip":true},"encoding":{"x":{"field":"x","type":"quantitative","axis":null},"y":{"field":"v","type":"quantitative","axis":null}}},
{"data":{"name":"pts"},"transform":[{"filter":"datum.q === '650'"}],"mark":{"type":"point","filled":true,"size":70,"opacity":1,"color":"black","clip":true},"encoding":{"x":{"field":"x","type":"quantitative","axis":null},"y":{"field":"y","type":"quantitative","axis":null},"shape":{"datum":"HERA"}}}
]},
{"width":206,"height":129,"title":{"text":"Q² = 2000 GeV²"},"resolve":{"axis":{"x":"independent","y":"independent"}},"layer":[
{"data":{"name":"cur"},"transform":[{"filter":"datum.q === '2000'"}],"mark":{"type":"area","clip":true,"opacity":1},"encoding":{"x":{"field":"x","type":"quantitative","scale":{"type":"log","domain":[0.00001,0.1]},"axis":{"orient":"bottom","values":[0.0001,0.001,0.01],"tickSize":-5,"labelPadding":14,"labelExpr":"datum.value < 0.0005 ? '10⁻⁴' : datum.value < 0.005 ? '10⁻³' : '10⁻²'","title":"x","titleX":185,"titleY":32,"titleAlign":"left","titleBaseline":"alphabetic","titleFontSize":20,"titleAngle":0}},"y":{"field":"lo","type":"quantitative","scale":{"domain":[0,0.05]},"axis":{"orient":"left","values":[0.02,0.04],"tickSize":-11,"labels":false,"title":null}},"y2":{"field":"hi"},"fill":{"datum":"NLO HERAPDF2.0 FF3A"}}},
{"data":{"name":"cur"},"transform":[{"filter":"datum.q === '2000'"}],"mark":{"type":"line","clip":true,"strokeWidth":1.5},"encoding":{"x":{"field":"x","type":"quantitative","axis":{"orient":"bottom","tickCount":40,"tickSize":-3,"labels":false,"title":"Bj","titleX":195,"titleY":36,"titleAlign":"left","titleBaseline":"alphabetic","titleFontSize":12,"titleAngle":0}},"y":{"field":"nlo","type":"quantitative","axis":{"orient":"left","values":[0.01,0.03],"tickSize":-6,"labels":false,"title":null}},"stroke":{"datum":"nloline"}}},
{"data":{"name":"cur"},"transform":[{"filter":"datum.q === '2000'"}],"mark":{"type":"line","clip":true,"strokeWidth":2.5,"color":"#9b7b64"},"encoding":{"x":{"field":"x","type":"quantitative","axis":{"orient":"top","values":[0.0001,0.001,0.01],"tickSize":-5,"labels":false,"title":null}},"y":{"field":"hq","type":"quantitative","axis":{"orient":"right","values":[0.02,0.04],"tickSize":-11,"labels":false,"title":null}},"strokeDash":{"datum":"HERAPDF-HQMASS"}}},
{"data":{"name":"pts"},"transform":[{"filter":"datum.q === '2000'"}],"mark":{"type":"rule","clip":true,"color":"black","strokeWidth":1.2},"encoding":{"x":{"field":"x","type":"quantitative","axis":{"orient":"top","tickCount":40,"tickSize":-3,"labels":false,"title":null}},"y":{"field":"elo","type":"quantitative","axis":{"orient":"right","values":[0.01,0.03],"tickSize":-6,"labels":false,"title":null}},"y2":{"field":"ehi"}}},
{"data":{"name":"pts"},"transform":[{"filter":"datum.q === '2000'"},{"fold":["elo","ehi"],"as":["k","v"]}],"mark":{"type":"tick","orient":"horizontal","size":8,"thickness":1.2,"color":"black","clip":true},"encoding":{"x":{"field":"x","type":"quantitative","axis":null},"y":{"field":"v","type":"quantitative","axis":null}}},
{"data":{"name":"pts"},"transform":[{"filter":"datum.q === '2000'"}],"mark":{"type":"point","filled":true,"size":70,"opacity":1,"color":"black","clip":true},"encoding":{"x":{"field":"x","type":"quantitative","axis":null},"y":{"field":"y","type":"quantitative","axis":null},"shape":{"datum":"HERA"}}}
]}
],
"config": {
"view": {"stroke": "black", "strokeWidth": 1.5, "fill": null},
"font": "Liberation Sans",
"axis": {"domain": false, "grid": false, "tickColor": "black", "tickWidth": 1, "labelColor": "black", "labelFont": "Liberation Sans", "labelFontWeight": "bold", "labelFontSize": 15, "titleColor": "black", "titleFont": "Liberation Sans", "titleFontWeight": "bold", "labelOverlap": false, "labelFlush": false},
"title": {"anchor": "start", "frame": "group", "font": "Liberation Sans", "fontWeight": "bold", "fontSize": 14, "color": "black", "baseline": "alphabetic", "offset": -23, "dx": 10},
"legend": {"labelFont": "Liberation Sans", "labelFontWeight": "bold", "labelFontSize": 15, "labelColor": "black", "labelLimit": 400}
}
}
